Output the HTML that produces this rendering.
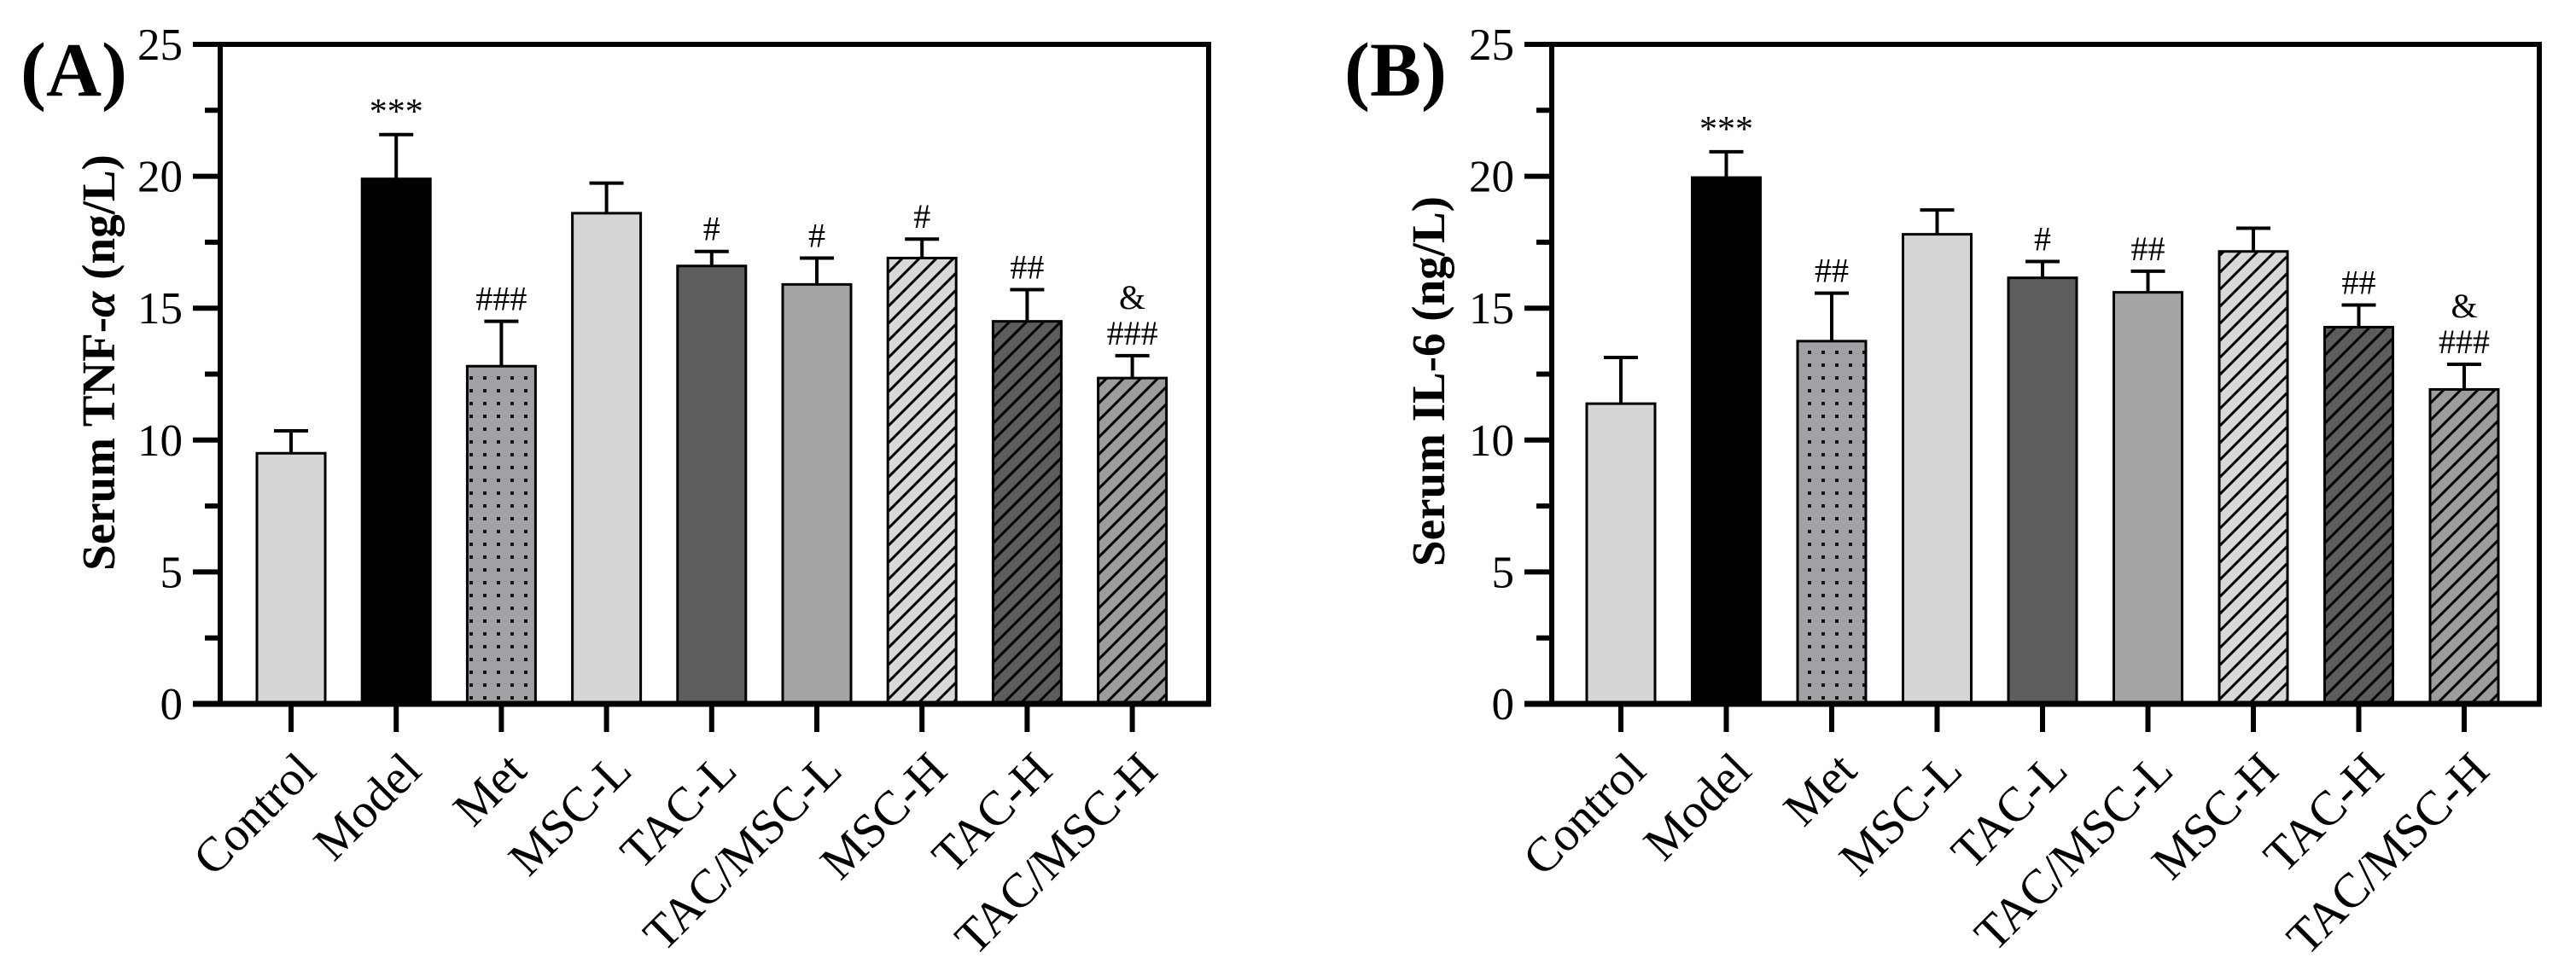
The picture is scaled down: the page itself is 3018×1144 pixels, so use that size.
<!DOCTYPE html>
<html><head><meta charset="utf-8"><style>
html,body{margin:0;padding:0;background:#fff;}
svg{display:block;}
text{font-family:"Liberation Serif",serif;fill:#000;}
</style></head><body>
<svg id="fig" width="3018" height="1144" viewBox="0 0 3018 1144" xmlns="http://www.w3.org/2000/svg">
<defs>
<pattern id="dots" patternUnits="userSpaceOnUse" width="16" height="15"><rect width="16" height="15" fill="#a2a2a6"/><rect x="6" y="6" width="4" height="4" fill="#111"/></pattern>
<pattern id="hatchLight" patternUnits="userSpaceOnUse" width="20" height="20"><rect width="20" height="20" fill="#d8d8d8"/><path d="M-5,5 L5,-5 M0,20 L20,0 M15,25 L25,15" stroke="#000" stroke-width="3"/></pattern>
<pattern id="hatchDark" patternUnits="userSpaceOnUse" width="20" height="20"><rect width="20" height="20" fill="#5c5c5c"/><path d="M-5,5 L5,-5 M0,20 L20,0 M15,25 L25,15" stroke="#000" stroke-width="3"/></pattern>
<pattern id="hatchMid" patternUnits="userSpaceOnUse" width="20" height="20"><rect width="20" height="20" fill="#9c9c9e"/><path d="M-5,5 L5,-5 M0,20 L20,0 M15,25 L25,15" stroke="#000" stroke-width="3"/></pattern>
</defs>
</svg>
<script>
const categories = ["Control","Model","Met","MSC-L","TAC-L","TAC/MSC-L","MSC-H","TAC-H","TAC/MSC-H"];
const tnfMeans = [9.5, 19.9, 12.8, 18.6, 16.6, 15.9, 16.9, 14.5, 12.35];
const tnfErrors = [0.85, 1.68, 1.7, 1.14, 0.55, 1.0, 0.72, 1.2, 0.85];
const tnfMarks = ["", "***", "###", "", "#", "#", "#", "##", "&\n###"];
const il6Means = [11.38, 19.95, 13.75, 17.8, 16.15, 15.6, 17.15, 14.28, 11.92];
const il6Errors = [1.75, 0.98, 1.82, 0.92, 0.62, 0.8, 0.88, 0.84, 0.95];
const il6Marks = ["", "***", "##", "", "#", "##", "", "##", "&\n###"];
const yTicks = [0, 5, 10, 15, 20, 25];
const fills = ["#d6d6d6","#000000","url(#dots)","#d6d6d6","#5e5e5e","#a4a4a7","url(#hatchLight)","url(#hatchDark)","url(#hatchMid)"];

const NS = "http://www.w3.org/2000/svg";
const svg = document.getElementById("fig");
function mk(tag, attrs, parent){
  const e = document.createElementNS(NS, tag);
  for (const k in attrs) e.setAttribute(k, attrs[k]);
  (parent||svg).appendChild(e);
  return e;
}

function panel(opts){
  const g = mk("g", {});
  
  
  const yTop = 52, y0 = 825, vmax = 25;
  const y = v => y0 - (v / vmax) * (y0 - yTop);
  const x = i => opts.firstCx + i * opts.step;
  const axL = opts.axisX, axR = opts.rightX;

  const frame = mk("path", {d:`M${axL},${yTop} L${axR},${yTop} L${axR},${y0} M${axL},${yTop} L${axL},${y0}`, stroke:"#000","stroke-width":6, fill:"none"}, g);
  
  

  categories.forEach((c, i) => {
    const cx = x(i), w = 80, top = y(opts.means[i]);
    const bar = mk("rect", {x:cx - w/2, y:top, width:w, height:y0 - top, fill:fills[i], stroke:"#000","stroke-width":3}, g);
    
    
    const et = y(opts.means[i] + opts.errs[i]);
    const eb = mk("path", {d:`M${cx},${top} L${cx},${et} M${cx-20},${et} L${cx+20},${et}`, stroke:"#000","stroke-width":4, fill:"none"}, g);
    
    
    const m = opts.marks[i];
    if (m) {
      const lines = m.split("\n");
      lines.forEach((ln, k) => {
        const t = mk("text", {x:cx, y:et - 13 - (lines.length - 1 - k) * 42, "text-anchor":"middle", "font-size": ln === "***" ? 42 : 40}, g);
        t.textContent = ln;
        
        
      });
    }
    const tk = mk("line", {x1:cx, y1:y0, x2:cx, y2:858, stroke:"#000","stroke-width":6}, g);
    
    
    const lx = cx + 32, ly = 906;
    const lb = mk("text", {x:lx, y:ly, "text-anchor":"end", "font-size":57, transform:`rotate(-45 ${lx} ${ly})`}, g);
    lb.textContent = c;
    
    
  });

  const xa = mk("line", {x1:axL - 32, y1:y0, x2:axR + 3, y2:y0, stroke:"#000","stroke-width":7}, g);
  
  

  yTicks.forEach(v => {
    const ty = y(v);
    const tl = mk("line", {x1:axL - 32, y1:ty, x2:axL, y2:ty, stroke:"#000","stroke-width":6}, g);
    
    
    const t = mk("text", {x:axL - 44, y:ty + 18, "text-anchor":"end", "font-size":53}, g);
    t.textContent = v;
    
    
    if (v < 25) {
      const my = y(v + 2.5);
      const mt = mk("line", {x1:axL - 18, y1:my, x2:axL, y2:my, stroke:"#000","stroke-width":6}, g);
      
      
    }
  });

  const tx = opts.titleX, tyc = opts.titleY;
  const tt = mk("text", {x:tx, y:tyc, "text-anchor":"middle", "font-size":55, "font-weight":"bold", transform:`rotate(-90 ${tx} ${tyc})`}, g);
  
  
  opts.title.forEach(p => {
    const s = mk("tspan", p.italic ? {"font-style":"italic"} : {}, tt);
    s.textContent = p.t;
  });

  const pl = mk("text", {x:opts.letterX, y:112, "font-size":90, "font-weight":"bold"}, g);
  pl.textContent = opts.letter;
  
  
}

panel({name:"panel-a-tnf", axisX:258, rightX:1416, firstCx:341, step:123.2, means:tnfMeans, errs:tnfErrors, marks:tnfMarks,
  titleX:134, titleY:425, title:[{t:"Serum TNF-"},{t:"α",italic:true},{t:" (ng/L)"}], letterX:24, letter:"(A)"});
panel({name:"panel-b-il6", axisX:1818, rightX:2975, firstCx:1899, step:123.5, means:il6Means, errs:il6Errors, marks:il6Marks,
  titleX:1692, titleY:447, title:[{t:"Serum IL-6 (ng/L)"}], letterX:1575, letter:"(B)"});
</script>
</body></html>
